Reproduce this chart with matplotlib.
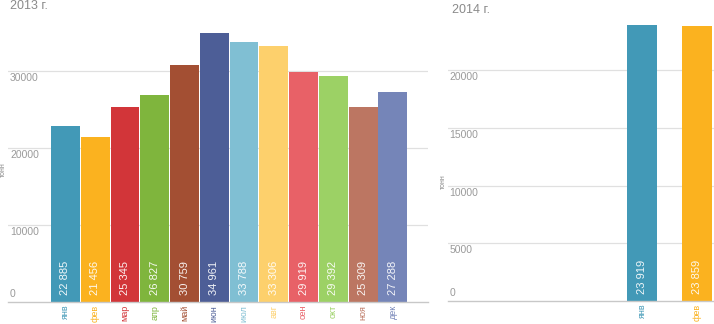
import matplotlib
matplotlib.use("Agg")
import matplotlib.pyplot as plt
from matplotlib.transforms import blended_transform_factory

plt.rcParams['font.family'] = ['Liberation Sans Narrow', 'Liberation Sans', 'DejaVu Sans']

months_2013 = ["янв", "фев", "мар", "апр", "май", "июн", "июл", "авг", "сен", "окт", "ноя", "дек"]
values_2013 = [22885, 21456, 25345, 26827, 30759, 34961, 33788, 33306, 29919, 29392, 25309, 27288]
labels_2013 = ["22 885", "21 456", "25 345", "26 827", "30 759", "34 961",
               "33 788", "33 306", "29 919", "29 392", "25 309", "27 288"]
colors_2013 = ["#4299b7", "#fbb21f", "#d23539", "#7fb53d", "#a34f33", "#4d5e97",
               "#80bfd3", "#fdd06c", "#e86167", "#9cd165", "#bc7662", "#7585b8"]
yticks_2013 = [0, 10000, 20000, 30000]

months_2014 = ["янв", "фев"]
values_2014 = [23919, 23859]
labels_2014 = ["23 919", "23 859"]
colors_2014 = ["#4299b7", "#fbb21f"]
yticks_2014 = [0, 5000, 10000, 15000, 20000]

W, H = 714, 324
fig = plt.figure(figsize=(W / 100, H / 100), dpi=100)
fig.patch.set_facecolor("white")


def px_axes(left, right, top, bottom):
    return fig.add_axes([left / W, (H - bottom) / H, (right - left) / W, (bottom - top) / H])


def style_axes(ax, months, values, labels, colors, yticks, xlim, ylim, width):
    x = list(range(len(values)))
    for t in yticks:
        if t == 0:
            continue
        ax.axhline(t, color="#e0e0e0", lw=0.9, zorder=0)
    ax.bar(x, values, width=width, color=colors, zorder=2)
    ax.set_xlim(*xlim)
    ax.set_ylim(*ylim)
    for s in ["top", "right", "left"]:
        ax.spines[s].set_visible(False)
    ax.spines["bottom"].set_color("#c8c8c8")
    ax.spines["bottom"].set_linewidth(1.0)
    ax.set_yticks([])
    ax.set_xticks(x)
    ax.set_xticklabels(months, rotation=90, fontsize=6.5)
    ax.tick_params(axis="x", length=0, pad=2)
    for tl, c in zip(ax.get_xticklabels(), colors):
        tl.set_color(c)
    tr = blended_transform_factory(ax.transAxes, ax.transData)
    for t in yticks:
        if t == 0:
            ax.annotate(f"{t}", (0.005, t), xycoords=tr, xytext=(0, 3),
                        textcoords="offset pixels", ha="left", va="bottom",
                        fontsize=7.5, color="#9a9a9a")
        else:
            ax.annotate(f"{t}", (0.005, t), xycoords=tr, xytext=(0, -2),
                        textcoords="offset pixels", ha="left", va="top",
                        fontsize=7.5, color="#9a9a9a")
    for xi, lab in zip(x, labels):
        ax.annotate(lab, (xi, 0), xytext=(0, 7), textcoords="offset pixels",
                    rotation=90, ha="center", va="bottom", fontsize=8,
                    color="white", alpha=0.92, zorder=3)


ax1 = px_axes(8, 428, 18, 302)
style_axes(ax1, months_2013, values_2013, labels_2013, colors_2013, yticks_2013,
           (-1.93, 12.18), (0, (302 - 18) / 0.0077), 0.97)

ax2 = px_axes(448, 714, 15, 300.7)
style_axes(ax2, months_2014, values_2014, labels_2014, colors_2014, yticks_2014,
           (-3.52, 1.30), (0, (300.7 - 15) / 0.01152), 0.545)

fig.text(10 / W, 1 - 6 / H, "2013 г.", fontsize=9, color="#8a8a8a", ha="left", va="center")
fig.text(452 / W, 1 - 10 / H, "2014 г.", fontsize=9, color="#8a8a8a", ha="left", va="center")
fig.text(3 / W, 1 - 170 / H, "тонн", fontsize=5, color="#8a8a8a", rotation=90, ha="center", va="center")
fig.text(443 / W, 1 - 182 / H, "тонн", fontsize=5, color="#8a8a8a", rotation=90, ha="center", va="center")

fig.savefig("out.png", dpi=100, facecolor="white")
